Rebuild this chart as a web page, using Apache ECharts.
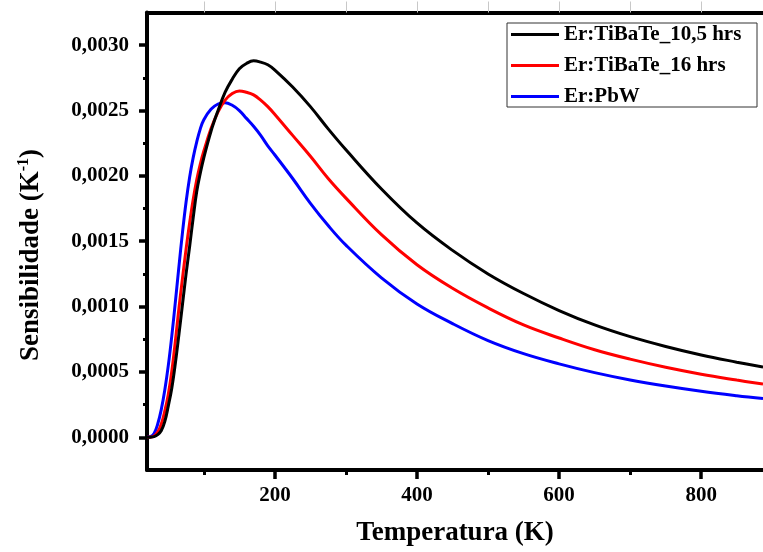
<!DOCTYPE html>
<html>
<head>
<meta charset="utf-8">
<script src="https://cdn.jsdelivr.net/npm/echarts@6/dist/echarts.min.js"></script>
<style>
html,body{margin:0;padding:0;background:#fff;}
#chart{width:763px;height:552px;}
</style>
</head>
<body>
<div id="chart"></div>
<script>
// Temperature (K) sample points
var temps = [20, 25, 30, 35, 40, 45, 50, 55, 60, 65, 70, 75, 80, 85, 90, 95, 100, 110, 120, 130, 140, 150, 160, 170, 180, 190, 200, 225, 250, 275, 300, 350, 400, 450, 500, 550, 600, 650, 700, 750, 800, 850, 887];

// Er:TiBaTe_10,5 hrs (black)
var sTiBaTe105 = [0, 0.000001, 0.000005, 0.00002, 0.00005, 0.00012, 0.00024, 0.00038, 0.00057, 0.00079, 0.00102, 0.00125, 0.00146, 0.00168, 0.00188, 0.00202, 0.00214, 0.00234, 0.00250, 0.00264, 0.00274, 0.00282, 0.00286, 0.00288, 0.00287, 0.00285, 0.00281, 0.00268, 0.00253, 0.00236, 0.00220, 0.00190, 0.00164, 0.00143, 0.00125, 0.00110, 0.00097, 0.00086, 0.00077, 0.000695, 0.00063, 0.000575, 0.000537];

// Er:TiBaTe_16 hrs (red)
var sTiBaTe16 = [0, 0.000002, 0.00001, 0.00004, 0.0001, 0.0002, 0.00033, 0.00051, 0.00074, 0.00099, 0.00122, 0.00144, 0.00164, 0.00182, 0.00197, 0.00209, 0.00219, 0.00236, 0.00249, 0.00258, 0.00263, 0.00265, 0.00264, 0.00262, 0.00258, 0.00253, 0.00247, 0.00231, 0.00215, 0.00198, 0.00183, 0.00155, 0.00132, 0.00114, 0.00099, 0.00086, 0.00076, 0.00067, 0.000598, 0.000536, 0.000483, 0.000438, 0.000407];

// Er:PbW (blue)
var sPbW = [0, 0.000005, 0.00003, 0.0001, 0.00021, 0.00036, 0.00055, 0.00078, 0.00104, 0.00131, 0.00157, 0.0018, 0.00199, 0.00214, 0.00226, 0.00236, 0.00243, 0.00251, 0.00255, 0.00256, 0.00254, 0.0025, 0.00244, 0.00238, 0.00231, 0.00223, 0.00216, 0.00198, 0.00179, 0.00162, 0.00147, 0.00122, 0.00102, 0.00087, 0.00074, 0.00064, 0.000562, 0.000495, 0.000439, 0.000392, 0.000352, 0.000318, 0.000296];

var seriesNames = ['Er:TiBaTe_10,5 hrs', 'Er:TiBaTe_16 hrs', 'Er:PbW'];
var seriesColors = ['#000000', '#ff0000', '#0000ff'];

// Ticks
var xMajorTicks = [200, 400, 600, 800];
var xMinorTicks = [100, 300, 500, 700];
var xTopTicks = [100, 200, 300, 400, 500, 600, 700, 800];
var yMajorTicks = [0, 0.0005, 0.0010, 0.0015, 0.0020, 0.0025, 0.0030];
var yMinorTicks = [0.00025, 0.00075, 0.00125, 0.00175, 0.00225, 0.00275];

var FONT = '"Liberation Serif", "Times New Roman", serif';

function pairs(arr) { return temps.map(function (t, i) { return [t, arr[i]]; }); }

var xMin = 20, xMax = 887, yMin = -0.00025, yMax = 0.00325;

var chart = echarts.init(document.getElementById('chart'), null, {renderer: 'canvas'});
var option = {
  animation: false,
  backgroundColor: '#ffffff',
  grid: {left: 147, top: 12.5, right: 0, bottom: 81, containLabel: false},
  legend: {
    orient: 'vertical',
    left: 507, top: 23,
    padding: [1, 4, 0, 4],
    borderColor: '#333',
    borderWidth: 1,
    itemWidth: 48, itemHeight: 3, itemGap: 10,
    icon: 'rect',
    textStyle: {fontFamily: FONT, fontSize: 21, fontWeight: 'bold', color: '#000', width: 189, lineHeight: 20},
    data: seriesNames
  },
  xAxis: [
    {
      type: 'value', min: xMin, max: xMax, position: 'bottom',
      name: 'Temperatura (K)', nameLocation: 'middle', nameGap: 50,
      nameTextStyle: {fontFamily: FONT, fontSize: 27, fontWeight: 'bold', color: '#000'},
      axisLine: {show: true, onZero: false, lineStyle: {color: '#000', width: 4}},
      axisTick: {show: true, inside: false, length: 9, customValues: xMajorTicks, lineStyle: {color: '#000', width: 3.5}},
      axisLabel: {show: true, margin: 15, customValues: xMajorTicks, fontFamily: FONT, fontSize: 21, fontWeight: 'bold', color: '#000'},
      splitLine: {show: false}
    },
    {
      type: 'value', min: xMin, max: xMax, position: 'bottom',
      axisLine: {show: false, onZero: false},
      axisTick: {show: true, inside: false, length: 5, customValues: xMinorTicks, lineStyle: {color: '#000', width: 3}},
      axisLabel: {show: false},
      splitLine: {show: false}
    },
    {
      type: 'value', min: xMin, max: xMax, position: 'top',
      axisLine: {show: true, onZero: false, lineStyle: {color: '#000', width: 4}},
      axisTick: {show: true, inside: false, length: 11, customValues: xTopTicks, lineStyle: {color: '#c8c8c8', width: 1}},
      axisLabel: {show: false},
      splitLine: {show: false}
    }
  ],
  yAxis: [
    {
      type: 'value', min: yMin, max: yMax, position: 'left',
      axisLine: {show: true, onZero: false, lineStyle: {color: '#000', width: 4}},
      axisTick: {show: true, inside: false, length: 8, customValues: yMajorTicks, lineStyle: {color: '#000', width: 3.5}},
      axisLabel: {
        show: true, margin: 18, customValues: yMajorTicks,
        fontFamily: FONT, fontSize: 21, fontWeight: 'bold', color: '#000',
        formatter: function (v) { return v.toFixed(4).replace('.', ','); }
      },
      splitLine: {show: false}
    },
    {
      type: 'value', min: yMin, max: yMax, position: 'left',
      axisLine: {show: false, onZero: false},
      axisTick: {show: true, inside: false, length: 4, customValues: yMinorTicks, lineStyle: {color: '#000', width: 3}},
      axisLabel: {show: false},
      splitLine: {show: false}
    }
  ],
  graphic: [
    {
      type: 'text',
      x: 31, y: 255,
      rotation: Math.PI / 2,
      style: {
        text: '{a|Sensibilidade (K}{s|-1}{a|)}',
        align: 'center', verticalAlign: 'middle',
        rich: {
          a: {fontFamily: FONT, fontSize: 27, fontWeight: 'bold', fill: '#000', lineHeight: 30, verticalAlign: 'middle'},
          s: {fontFamily: FONT, fontSize: 16, fontWeight: 'bold', fill: '#000', lineHeight: 16, verticalAlign: 'top'}
        }
      }
    }
  ],
  series: [sTiBaTe105, sTiBaTe16, sPbW].map(function (arr, i) {
    return {
      name: seriesNames[i], type: 'line', xAxisIndex: 0, yAxisIndex: 0,
      data: pairs(arr), showSymbol: false, symbol: 'none', smooth: 0.4,
      color: seriesColors[i],
      lineStyle: {color: seriesColors[i], width: 3},
      z: 3 - i
    };
  })
};
chart.setOption(option);
</script>
</body>
</html>
